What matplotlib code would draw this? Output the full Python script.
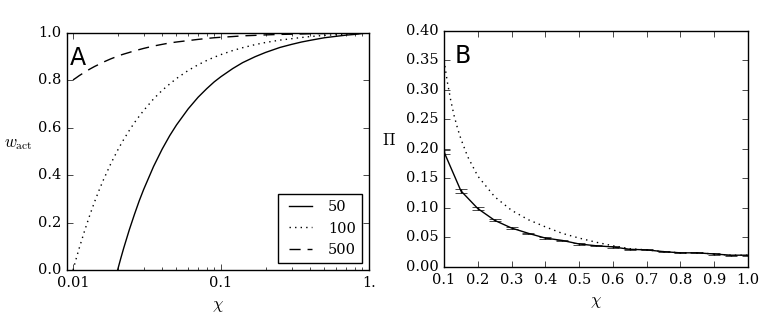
import matplotlib
matplotlib.use('Agg')
import matplotlib.pyplot as plt
import numpy as np

# panel A: w_act vs chi for three N values
chi_a = [0.01, 0.0105, 0.011, 0.012, 0.013, 0.014, 0.015, 0.016, 0.018, 0.02,
         0.021, 0.022, 0.024, 0.026, 0.028, 0.03, 0.035, 0.04, 0.045, 0.05,
         0.06, 0.07, 0.08, 0.09, 0.1, 0.12, 0.14, 0.17, 0.2, 0.25,
         0.3, 0.35, 0.4, 0.5, 0.6, 0.7, 0.8, 0.9, 1.0]
w_50 = [np.nan] * 9 + [0.0,
        0.0486, 0.0928, 0.170, 0.235, 0.292, 0.340, 0.437, 0.510, 0.567, 0.612,
        0.680, 0.729, 0.765, 0.794, 0.816, 0.850, 0.875, 0.900, 0.918, 0.939,
        0.952, 0.962, 0.969, 0.980, 0.986, 0.991, 0.994, 0.998, 1.0]
w_100 = [0.0, 0.0481, 0.0918, 0.168, 0.233, 0.289, 0.337, 0.379, 0.449, 0.505,
         0.529, 0.551, 0.589, 0.622, 0.649, 0.673, 0.722, 0.758, 0.785, 0.808,
         0.842, 0.866, 0.884, 0.898, 0.909, 0.926, 0.938, 0.951, 0.960, 0.970,
         0.976, 0.981, 0.985, 0.990, 0.993, 0.996, 0.997, 0.999, 1.0]
w_500 = [0.802, 0.811, 0.820, 0.835, 0.848, 0.859, 0.868, 0.877, 0.891, 0.902,
         0.907, 0.911, 0.918, 0.925, 0.930, 0.935, 0.945, 0.952, 0.958, 0.962,
         0.968, 0.973, 0.977, 0.980, 0.982, 0.985, 0.988, 0.990, 0.992, 0.994,
         0.995, 0.996, 0.997, 0.998, 0.999, 0.999, 1.0, 1.0, 1.0]
labels_a = ['50', '100', '500']

# panel B: Pi vs chi, simulation with error bars and a dotted estimate
chi_b = [0.1, 0.15, 0.2, 0.25, 0.3, 0.35, 0.4, 0.45, 0.5, 0.55,
         0.6, 0.65, 0.7, 0.75, 0.8, 0.85, 0.9, 0.95, 1.0]
pi_sim = [0.195, 0.129, 0.099, 0.079, 0.066, 0.057, 0.049, 0.045, 0.039, 0.036,
          0.034, 0.030, 0.029, 0.026, 0.024, 0.024, 0.022, 0.020, 0.020]
pi_err = [0.003, 0.003, 0.002, 0.0015, 0.0015, 0.0012, 0.001, 0.001, 0.001, 0.001,
          0.001, 0.001, 0.001, 0.001, 0.001, 0.001, 0.001, 0.001, 0.001]
chi_dot = [0.1, 0.11, 0.12, 0.13, 0.14, 0.15, 0.17, 0.2, 0.25, 0.3,
           0.35, 0.4, 0.45, 0.5, 0.55, 0.6, 0.65, 0.7, 0.75, 0.8,
           0.85, 0.9, 0.95, 1.0]
pi_dot = [0.350, 0.313, 0.282, 0.256, 0.235, 0.217, 0.187, 0.154, 0.119, 0.096,
          0.080, 0.068, 0.057, 0.049, 0.042, 0.036, 0.031, 0.029, 0.026, 0.024,
          0.024, 0.022, 0.020, 0.020]

plt.style.use('classic')
plt.rcParams['font.family'] = 'DejaVu Serif'
plt.rcParams['mathtext.fontset'] = 'cm'
plt.rcParams['font.size'] = 10.5
plt.rcParams['legend.fontsize'] = 10.5

fig = plt.figure(figsize=(7.64, 3.35), dpi=100, facecolor='white')

ax1 = fig.add_axes([0.0877, 0.194, 0.3953, 0.7075])
ax1.plot(chi_a, w_50, 'k-', lw=1, label=labels_a[0])
ax1.plot(chi_a, w_100, 'k:', lw=1, label=labels_a[1])
ax1.plot(chi_a, w_500, 'k--', lw=1, dashes=(8, 5), label=labels_a[2])
ax1.set_xscale('log')
ax1.set_xlim(0.0091, 1.0)
ax1.set_ylim(0, 1)
ax1.set_xticks([0.01, 0.1, 1.0])
ax1.set_xticklabels(['0.01', '0.1', '1.'])
ax1.set_yticks([0, 0.2, 0.4, 0.6, 0.8, 1.0])
ax1.set_yticklabels(['0.0', '0.2', '0.4', '0.6', '0.8', '1.0'])
ax1.set_xlabel(r'$\chi$', fontsize=12)
ax1.set_ylabel(r'$w_{\rm act}$', rotation=0, fontsize=12, labelpad=14)
ax1.text(0.01, 0.945, 'A', transform=ax1.transAxes, family='DejaVu Sans',
         fontsize=17, va='top', ha='left')
ax1.legend(loc='lower right', handlelength=2.2, borderaxespad=0.5)

ax2 = fig.add_axes([0.5812, 0.203, 0.3979, 0.7045])
ax2.plot(chi_dot, pi_dot, 'k:', lw=1)
ax2.errorbar(chi_b, pi_sim, yerr=pi_err, fmt='k-', lw=1, capsize=4, ecolor='k')
ax2.set_xlim(0.1, 1.0)
ax2.set_ylim(0, 0.4)
ax2.set_xticks(np.arange(0.1, 1.01, 0.1))
ax2.set_yticks(np.arange(0, 0.401, 0.05))
ax2.set_xticklabels(['%.1f' % v for v in np.arange(0.1, 1.01, 0.1)])
ax2.set_yticklabels(['%.2f' % v for v in np.arange(0, 0.401, 0.05)])
ax2.set_xlabel(r'$\chi$', fontsize=12)
ax2.set_ylabel(r'$\Pi$', rotation=0, fontsize=12, labelpad=12)
ax2.text(0.035, 0.945, 'B', transform=ax2.transAxes, family='DejaVu Sans',
         fontsize=17, va='top', ha='left')

fig.savefig('out.png', dpi=100, facecolor='white')
